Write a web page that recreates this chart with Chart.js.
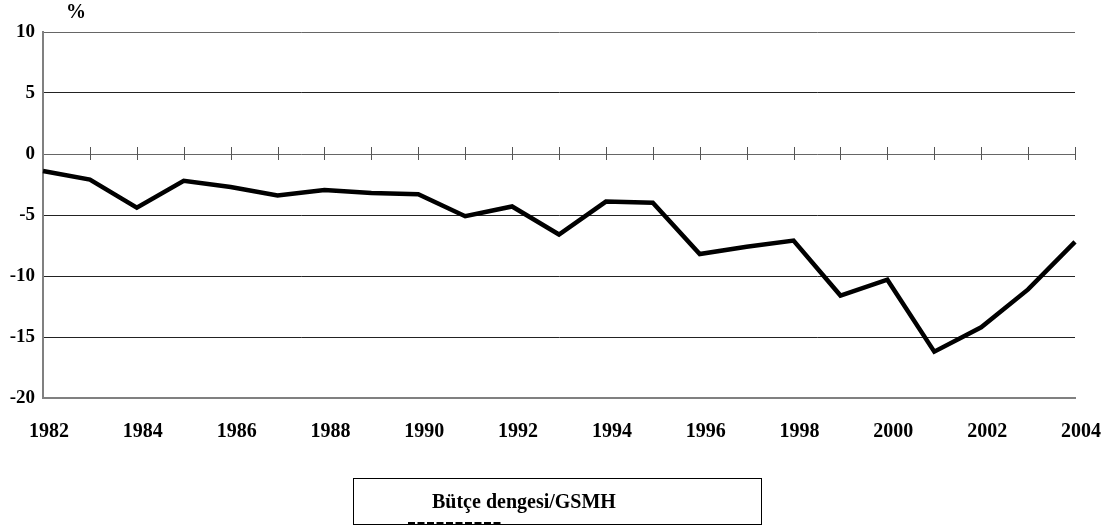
<!DOCTYPE html>
<html>
<head>
<meta charset="utf-8">
<script src="https://cdn.jsdelivr.net/npm/chart.js@4"></script>
<style>
  html, body { margin: 0; padding: 0; background: #fff; }
  #wrap { position: relative; width: 1118px; height: 527px; }
</style>
</head>
<body>
<div id="wrap"><canvas id="c" width="1118" height="527"></canvas></div>
<script>
const years = ['1982','1983','1984','1985','1986','1987','1988','1989','1990','1991','1992','1993','1994','1995','1996','1997','1998','1999','2000','2001','2002','2003','2004'];
const budgetBalance = [-1.4, -2.1, -4.4, -2.2, -2.7, -3.4, -2.95, -3.2, -3.3, -5.1, -4.3, -6.6, -3.9, -4.0, -8.2, -7.6, -7.1, -11.6, -10.3, -16.2, -14.2, -11.1, -7.2];
const seriesName = 'Bütçe dengesi/GSMH';
const unitLabel = '%';
const yMin = -20, yMax = 10, yStep = 5;

const FONT = '"Liberation Serif", "Times New Roman", serif';

const extras = {
  id: 'extras',
  afterDraw(chart) {
    const ctx = chart.ctx;
    const x = chart.scales.x, y = chart.scales.y;
    const y0 = y.getPixelForValue(0);
    ctx.save();
    // tick marks crossing the zero line
    ctx.strokeStyle = '#555';
    ctx.lineWidth = 1;
    for (let i = 1; i < years.length; i++) {
      const px = Math.round(x.getPixelForValue(i)) + 0.5;
      ctx.beginPath();
      ctx.moveTo(px, y0 - 7);
      ctx.lineTo(px, y0 + 6);
      ctx.stroke();
    }
    // unit label
    ctx.fillStyle = '#000';
    ctx.font = 'bold 20px ' + FONT;
    ctx.textAlign = 'center';
    ctx.textBaseline = 'middle';
    ctx.fillText(unitLabel, 76, 13);
    // legend box
    ctx.strokeStyle = '#000';
    ctx.lineWidth = 1;
    ctx.strokeRect(353.5, 478.5, 408, 46);
    ctx.font = 'bold 20px ' + FONT;
    ctx.textAlign = 'left';
    ctx.textBaseline = 'alphabetic';
    ctx.fillText(seriesName, 432, 508);
    ctx.lineWidth = 3;
    ctx.setLineDash([7, 2.5]);
    ctx.beginPath();
    ctx.moveTo(408, 523.5);
    ctx.lineTo(502, 523.5);
    ctx.stroke();
    ctx.restore();
  }
};

new Chart(document.getElementById('c'), {
  type: 'line',
  data: {
    labels: years,
    datasets: [{
      label: seriesName,
      data: budgetBalance,
      borderColor: '#000',
      backgroundColor: '#000',
      borderWidth: 4.5,
      pointRadius: 0,
      tension: 0,
      fill: false
    }]
  },
  options: {
    responsive: false,
    animation: false,
    layout: { padding: { left: 0, right: 43, top: 32, bottom: 89 } },
    plugins: { legend: { display: false }, tooltip: { enabled: false } },
    scales: {
      x: {
        type: 'category',
        offset: false,
        grid: { display: false, drawTicks: false },
        border: { display: true, color: '#808080', width: 2 },
        afterFit(s) { s.height = 40; },
        ticks: {
          autoSkip: false,
          maxRotation: 0,
          padding: 22,
          labelOffset: 6,
          color: '#000',
          font: { family: FONT, size: 20, weight: 'bold' },
          callback(v, i) { return (Number(years[i]) % 2 === 0) ? years[i] : ''; }
        }
      },
      y: {
        min: yMin, max: yMax,
        afterFit(s) { s.width = 43; },
        grid: {
          drawTicks: false,
          lineWidth: 1,
          color(c) { return (c.tick && (c.tick.value === 0 || c.tick.value === yMax || c.tick.value === yMin)) ? '#666' : '#222'; }
        },
        border: { display: true, color: '#808080', width: 2 },
        ticks: {
          stepSize: yStep,
          padding: 8,
          color: '#000',
          font: { family: FONT, size: 19, weight: 'bold' }
        }
      }
    }
  },
  plugins: [extras]
});
</script>
</body>
</html>
